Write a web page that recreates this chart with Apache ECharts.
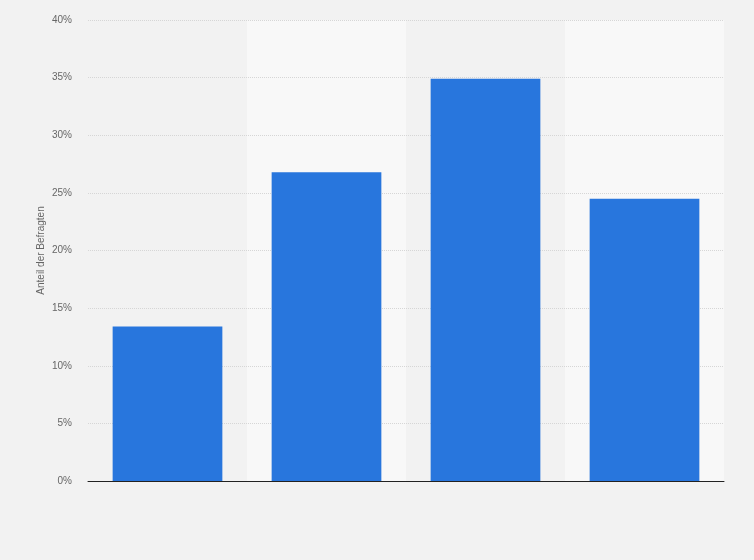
<!DOCTYPE html>
<html lang="de">
<head>
    <meta charset="utf-8">
    <script src="https://cdn.jsdelivr.net/npm/echarts@6/dist/echarts.min.js"></script>
    <style>
        html, body {
            margin: 0px;
            padding: 0px;
            width: 100%;
            height: 100%;
            background-color: #f2f2f2;
        }

        #chart {
            width: 754px;
            height: 560px;
        }
    </style>
</head>
<body>
<div id="chart"></div>
<script type="text/javascript">
    // categories have no visible labels in the source picture
    var categories = ['', ' ', '  ', '   '];
    var shares = [13.4, 26.8, 34.9, 24.5];
    var yTicks = [0, 5, 10, 15, 20, 25, 30, 35, 40];

    var myChart = echarts.init(document.getElementById('chart'));

    var option = {
        backgroundColor: '#f2f2f2',
        animation: false,
        grid: {
            left: 88,
            right: 30,
            top: 20,
            bottom: 79
        },
        xAxis: {
            type: 'category',
            data: categories,
            z: 0,
            axisLine: {
                lineStyle: {color: '#222', width: 1}
            },
            axisTick: {show: false},
            axisLabel: {show: false},
            splitArea: {
                show: true,
                areaStyle: {color: ['#f2f2f2', '#f8f8f8']}
            }
        },
        yAxis: {
            type: 'value',
            z: 1,
            min: yTicks[0],
            max: yTicks[yTicks.length - 1],
            interval: 5,
            name: 'Anteil der Befragten',
            nameLocation: 'middle',
            nameGap: 42,
            nameMoveOverlap: false,
            nameTextStyle: {
                color: '#666',
                fontSize: 10,
                fontFamily: 'Arial, "Liberation Sans", sans-serif'
            },
            axisLine: {show: false},
            axisTick: {show: false},
            axisLabel: {
                formatter: '{value}%',
                color: '#666',
                fontSize: 10,
                margin: 16,
                fontFamily: 'Arial, "Liberation Sans", sans-serif'
            },
            splitLine: {
                showMinLine: false,
                lineStyle: {color: '#d6d6d6', type: [1, 1]}
            }
        },
        series: [{
            type: 'bar',
            z: 2,
            data: shares,
            barCategoryGap: '31%',
            itemStyle: {
                color: '#2876dd'
            }
        }]
    };

    myChart.setOption(option, true);
</script>
</body>
</html>
